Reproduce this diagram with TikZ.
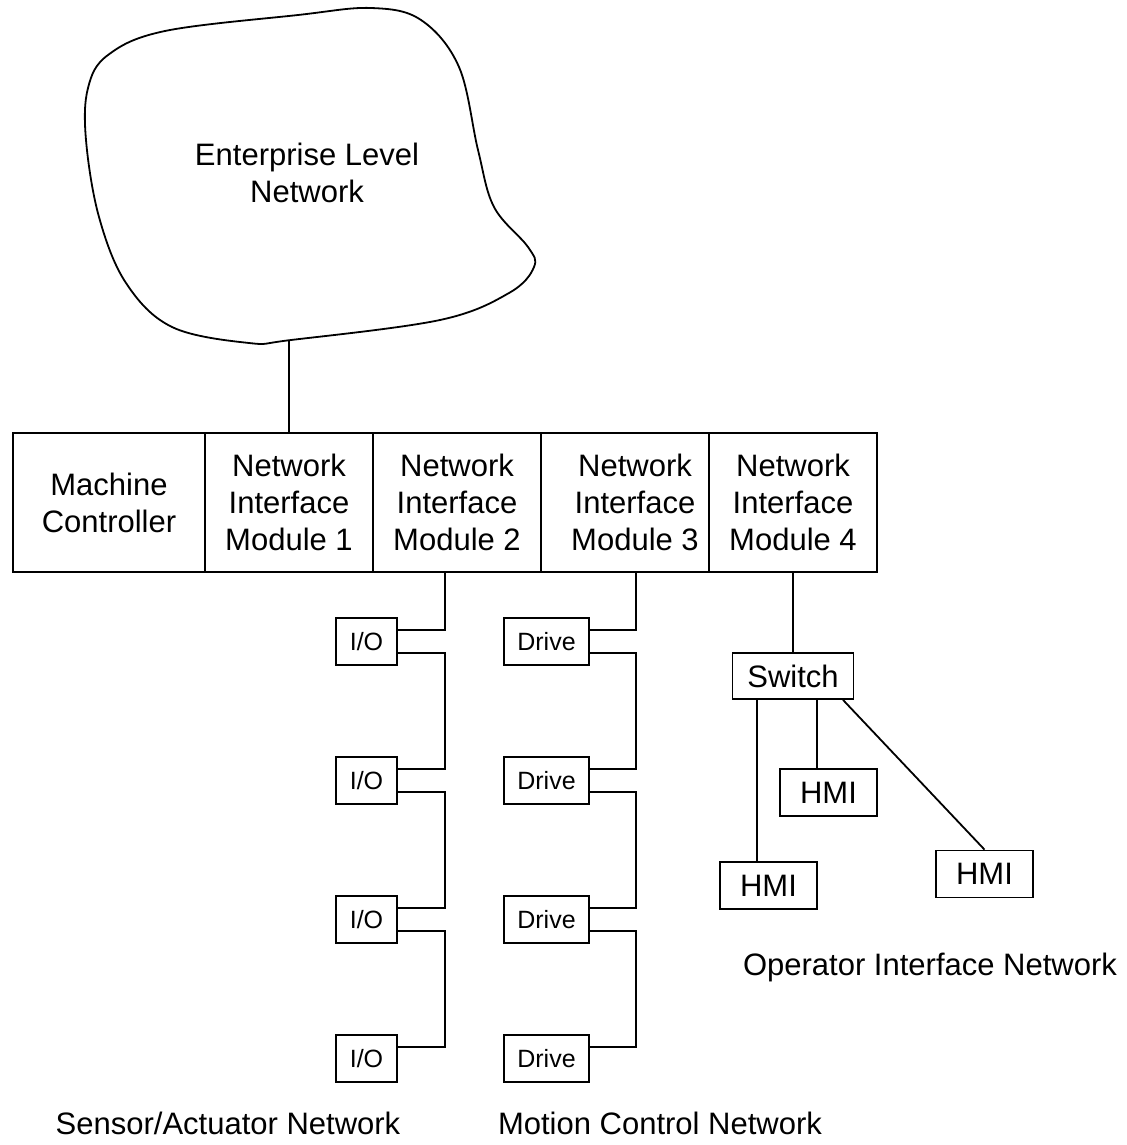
\documentclass[tikz,border=0pt]{standalone}
\usepackage{fontspec}
\setmainfont{Liberation Sans}
\usetikzlibrary{calc}
\begin{document}
\begin{tikzpicture}[x=0.5pt,y=-0.5pt,
  line width=0.9pt,
  bigtxt/.style={font=\fontsize{15.5}{18.5}\selectfont, align=center},
  smalltxt/.style={font=\fontsize{12.5}{15}\selectfont},
  modbox/.style={draw, bigtxt, inner sep=0pt, minimum height=69.5pt},
  iobox/.style={draw, smalltxt, inner sep=0pt, minimum width=30.5pt, minimum height=23.5pt},
  drvbox/.style={draw, smalltxt, inner sep=0pt, minimum width=42.5pt, minimum height=23.5pt},
  hmibox/.style={draw, bigtxt, inner sep=0pt, minimum width=48.5pt, minimum height=23.5pt},
  lbl/.style={bigtxt, inner sep=0pt}
]
\useasboundingbox (0,0) rectangle (1126,1145);

% cloud
\draw plot[smooth cycle, tension=0.6] coordinates {
  (108,55) (165,31) (298,15) (371,8) (421,20) (459,67) (478,150) (494,207)
  (528,247) (534,267) (509,293) (440,320) (291,340) (249,343) (172,327)
  (126,283) (99,217) (86,140) (88,88)};
\node[lbl] (cloud) at (307,173) {Enterprise Level\\Network};
\coordinate (cb) at (289,340);

% controller bar
\node[modbox, minimum width=96pt] (mc) at (109,502.5) {Machine\\Controller};
\node[modbox, minimum width=84pt] (nim1) at (289,502.5) {Network\\Interface\\Module 1};
\node[modbox, minimum width=84pt] (nim2) at (457,502.5) {Network\\Interface\\Module 2};
\node[modbox, minimum width=84pt] (nim3) at (625,502.5) {\hspace*{10pt}Network\\\hspace*{10pt}Interface\\\hspace*{10pt}Module 3};
\node[modbox, minimum width=84pt] (nim4) at (793,502.5) {Network\\Interface\\Module 4};

\draw (nim1.north) -- (cb);

% I/O and drive chains
\foreach \i/\y in {1/641.5,2/780.5,3/919.5,4/1058.5} {
  \node[iobox] (io\i) at (366.5,\y) {I/O};
  \node[drvbox] (dr\i) at (546.5,\y) {Drive};
  \coordinate (iou\i) at ($(io\i.east)+(0,-11.5)$);
  \coordinate (iol\i) at ($(io\i.east)+(0,11.5)$);
  \coordinate (dru\i) at ($(dr\i.east)+(0,-11.5)$);
  \coordinate (drl\i) at ($(dr\i.east)+(0,11.5)$);
}
\coordinate (t2) at ($(nim2.south)+(-12,0)$);
\coordinate (t3) at ($(nim3.south)+(11,0)$);
\draw (t2) |- (iou1);
\draw (t3) |- (dru1);
\foreach \i/\j in {1/2,2/3,3/4} {
  \draw (iol\i) -| (t2 |- iou\j) -- (iou\j);
  \draw (drl\i) -| (t3 |- dru\j) -- (dru\j);
}

% operator interface
\node[hmibox, minimum width=60.5pt, minimum height=23pt] (sw) at (793,676) {Switch};
\node[hmibox] (hmiM) at (828.5,792.5) {HMI};
\node[hmibox] (hmiL) at (768.5,885.5) {HMI};
\node[hmibox] (hmiR) at (984.5,874) {HMI};
\draw (sw.north |- nim4.south) -- (sw.north);
\coordinate (s1) at ($(sw.south)+(-36,0)$);
\coordinate (s2) at ($(sw.south)+(24,0)$);
\coordinate (s3) at ($(sw.south)+(50,0)$);
\draw (s1) -- (s1 |- hmiL.north);
\draw (s2) -- (s2 |- hmiM.north);
\draw (s3) -- (hmiR.north);

% labels
\node[lbl] (lsa) at (228,1123) {Sensor/Actuator Network};
\node[lbl] (lmc) at (660,1123) {Motion Control Network};
\node[lbl] (loi) at (930,967) {Operator Interface Network};
\end{tikzpicture}
\end{document}
